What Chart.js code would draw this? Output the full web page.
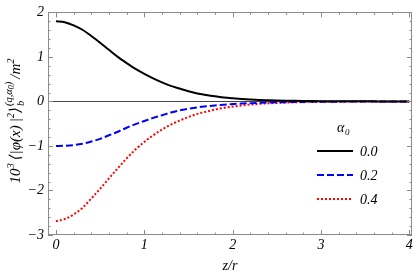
<!DOCTYPE html>
<html>
<head>
<meta charset="utf-8">
<script src="https://cdn.jsdelivr.net/npm/chart.js@4.4.1/dist/chart.umd.min.js"></script>
<style>
  html, body { margin: 0; padding: 0; background: #fff; }
  #wrap { width: 419px; height: 277px; position: relative; }
</style>
</head>
<body>
<div id="wrap"><canvas id="densityChart"></canvas></div>
<script>
// values
var zValues = [0.0, 0.1, 0.2, 0.3, 0.4, 0.5, 0.6, 0.7, 0.8, 0.9,
               1.0, 1.1, 1.2, 1.3, 1.4, 1.5, 1.6, 1.7, 1.8, 1.9,
               2.0, 2.1, 2.2, 2.3, 2.4, 2.5, 2.6, 2.7, 2.8, 2.9,
               3.0, 3.1, 3.2, 3.3, 3.4, 3.5, 3.6, 3.7, 3.8, 3.9, 4.0];

var alpha00 = [1.80, 1.78, 1.71, 1.61, 1.47, 1.32, 1.16, 1.00, 0.86, 0.73,
               0.62, 0.52, 0.43, 0.35, 0.29, 0.23, 0.18, 0.145, 0.115, 0.09,
               0.072, 0.057, 0.045, 0.035, 0.028, 0.022, 0.017, 0.013, 0.010, 0.008,
               0.006, 0.005, 0.004, 0.003, 0.0025, 0.002, 0.0015, 0.0012, 0.001, 0.0008, 0.0006];

var alpha02 = [-1.00, -0.995, -0.98, -0.95, -0.90, -0.84, -0.76, -0.68, -0.59, -0.51,
               -0.44, -0.37, -0.31, -0.25, -0.20, -0.165, -0.135, -0.11, -0.09, -0.073,
               -0.06, -0.048, -0.039, -0.031, -0.025, -0.02, -0.016, -0.013, -0.01, -0.008,
               -0.006, -0.005, -0.004, -0.003, -0.0025, -0.002, -0.0015, -0.0012, -0.001, -0.0008, -0.0006];

var alpha04 = [-2.69, -2.64, -2.54, -2.39, -2.18, -1.96, -1.73, -1.50, -1.28, -1.08,
               -0.91, -0.76, -0.63, -0.52, -0.43, -0.35, -0.28, -0.23, -0.18, -0.145,
               -0.115, -0.09, -0.07, -0.055, -0.043, -0.034, -0.026, -0.02, -0.016, -0.012,
               -0.009, -0.007, -0.005, -0.004, -0.003, -0.0025, -0.002, -0.0015, -0.0012, -0.001, -0.0008];

var alphaLabels = ['0.0', '0.2', '0.4'];
var xTicks = [0, 1, 2, 3, 4];
var yTicks = [-3, -2, -1, 0, 1, 2];
var yTickLabels = ['\u22123', '\u22122', '\u22121', '0', '1', '2'];

var serif = '"Liberation Serif", "DejaVu Serif", serif';
var frameColor = '#8a8a8a';

function points(vals) {
  return zValues.map(function (z, i) { return { x: z, y: vals[i] }; });
}

function italic(size) {
  return 'italic ' + size + 'px ' + serif;
}

// frame with inward ticks, plus the y = 0 axis
var framePlugin = {
  id: 'frame',
  beforeDatasetsDraw: function (chart) {
    var ctx = chart.ctx, a = chart.chartArea, y0 = chart.scales.y.getPixelForValue(0);
    ctx.save();
    ctx.strokeStyle = '#444';
    ctx.lineWidth = 1;
    ctx.beginPath();
    ctx.moveTo(a.left, Math.round(y0) + 0.5);
    ctx.lineTo(a.right, Math.round(y0) + 0.5);
    ctx.stroke();
    ctx.restore();
  },
  afterDatasetsDraw: function (chart) {
    var ctx = chart.ctx, a = chart.chartArea, xs = chart.scales.x, ys = chart.scales.y;
    ctx.save();
    ctx.strokeStyle = frameColor;
    ctx.lineWidth = 1;
    ctx.strokeRect(Math.round(a.left) + 0.5, Math.round(a.top) + 0.5,
                   Math.round(a.right - a.left) - 1, Math.round(a.bottom - a.top) - 1);
    ctx.beginPath();
    var i, v, p, len;
    for (i = 0; i <= 20; i++) {
      v = i * 0.2;
      p = Math.round(xs.getPixelForValue(v)) + 0.5;
      len = (i % 5 === 0) ? 5 : 2.5;
      ctx.moveTo(p, a.bottom); ctx.lineTo(p, a.bottom - len);
      ctx.moveTo(p, a.top); ctx.lineTo(p, a.top + len);
    }
    for (i = 0; i <= 25; i++) {
      v = -3 + i * 0.2;
      p = Math.round(ys.getPixelForValue(v)) + 0.5;
      len = (i % 5 === 0) ? 5 : 2.5;
      ctx.moveTo(a.left, p); ctx.lineTo(a.left + len, p);
      ctx.moveTo(a.right, p); ctx.lineTo(a.right - len, p);
    }
    ctx.stroke();
    ctx.restore();
  }
};

// legend drawn inside the plot, like the original
var legendPlugin = {
  id: 'alphaLegend',
  afterDraw: function (chart) {
    var ctx = chart.ctx;
    ctx.save();
    ctx.fillStyle = '#000';
    ctx.textBaseline = 'alphabetic';
    ctx.font = italic(14);
    ctx.fillText('\u03b1', 337, 132);
    ctx.font = italic(9);
    ctx.fillText('0', 345, 135);
    ctx.textBaseline = 'middle';
    chart.data.datasets.forEach(function (ds, i) {
      var y = 151 + i * 24;
      ctx.strokeStyle = ds.borderColor;
      ctx.lineWidth = ds.borderWidth;
      ctx.setLineDash(ds.borderDash || []);
      ctx.beginPath();
      ctx.moveTo(317, y);
      ctx.lineTo(353, y);
      ctx.stroke();
      ctx.setLineDash([]);
      ctx.font = italic(14);
      ctx.fillText(ds.label, 360, y + 1);
    });
    ctx.restore();
  }
};

// rotated y title with sub/superscripts
var yTitlePlugin = {
  id: 'yTitle',
  afterDraw: function (chart) {
    var ctx = chart.ctx;
    var big = 15, small = 10.5, tiny = 8;
    var parts = [
      ['10', big, 0], ['3', small, -6], ['\u2009\u27e8|\u03c6(x)\u2009|', big, 0], ['2', small, -6], ['\u27e9', big, 0]
    ];
    var tail = [['\u2009/m', big, 0], ['2', small, -6]];
    function w(t, s) { ctx.font = italic(s); return ctx.measureText(t).width; }
    var supW = w('(q,\u03b1', small) + w('0', tiny) + w(')', small);
    var total = 0;
    parts.concat(tail).forEach(function (p) { total += w(p[0], p[1]); });
    total += Math.max(supW, w('b', small)) + 1;
    ctx.save();
    ctx.translate(20, 121);
    ctx.rotate(-Math.PI / 2);
    ctx.fillStyle = '#000';
    ctx.textBaseline = 'alphabetic';
    var x = -total / 2;
    parts.forEach(function (p) {
      ctx.font = italic(p[1]);
      ctx.fillText(p[0], x, p[2]);
      x += ctx.measureText(p[0]).width;
    });
    x += 1;
    ctx.font = italic(small);
    ctx.fillText('b', x, 4);
    var sx = x;
    ctx.fillText('(q,\u03b1', sx, -8);
    sx += w('(q,\u03b1', small);
    ctx.font = italic(tiny);
    ctx.fillText('0', sx, -6);
    sx += w('0', tiny);
    ctx.font = italic(small);
    ctx.fillText(')', sx, -8);
    x += Math.max(supW, w('b', small));
    tail.forEach(function (p) {
      ctx.font = italic(p[1]);
      ctx.fillText(p[0], x, p[2]);
      x += ctx.measureText(p[0]).width;
    });
    ctx.restore();
  }
};

var tickFont = { family: serif, size: 14, style: 'italic' };

var densityChart = new Chart(document.getElementById('densityChart'), {
  type: 'line',
  data: {
    datasets: [
      { label: alphaLabels[0], data: points(alpha00), borderColor: '#000000', borderWidth: 2, borderDash: [] },
      { label: alphaLabels[1], data: points(alpha02), borderColor: '#0000ff', borderWidth: 2, borderDash: [7, 3] },
      { label: alphaLabels[2], data: points(alpha04), borderColor: '#ff0000', borderWidth: 2, borderDash: [2, 2] }
    ]
  },
  options: {
    responsive: true,
    maintainAspectRatio: false,
    animation: false,
    layout: { padding: { top: 7, right: 7, left: 0, bottom: 0 } },
    elements: {
      point: { radius: 0 },
      line: { cubicInterpolationMode: 'monotone', fill: false }
    },
    plugins: {
      legend: { display: false },
      tooltip: { enabled: false }
    },
    scales: {
      x: {
        type: 'linear',
        min: -0.09,
        max: 4.03,
        grid: { display: false, drawTicks: false },
        border: { display: false },
        afterBuildTicks: function (s) { s.ticks = xTicks.map(function (v) { return { value: v }; }); },
        afterFit: function (s) { s.height = 42; },
        ticks: { font: tickFont, color: '#000', padding: 2, maxRotation: 0, autoSkip: false,
                 callback: function (v) { return String(v); } },
        title: { display: true, text: 'z/r', font: tickFont, color: '#000', padding: { top: 4, bottom: 2 } }
      },
      y: {
        type: 'linear',
        min: -3,
        max: 2,
        grid: { display: false, drawTicks: false },
        border: { display: false },
        afterBuildTicks: function (s) { s.ticks = yTicks.map(function (v) { return { value: v }; }); },
        afterFit: function (s) { s.width = 48; },
        ticks: { font: tickFont, color: '#000', padding: 4, autoSkip: false,
                 callback: function (v) { return yTickLabels[yTicks.indexOf(v)]; } }
      }
    }
  },
  plugins: [framePlugin, legendPlugin, yTitlePlugin]
});
</script>
</body>
</html>
